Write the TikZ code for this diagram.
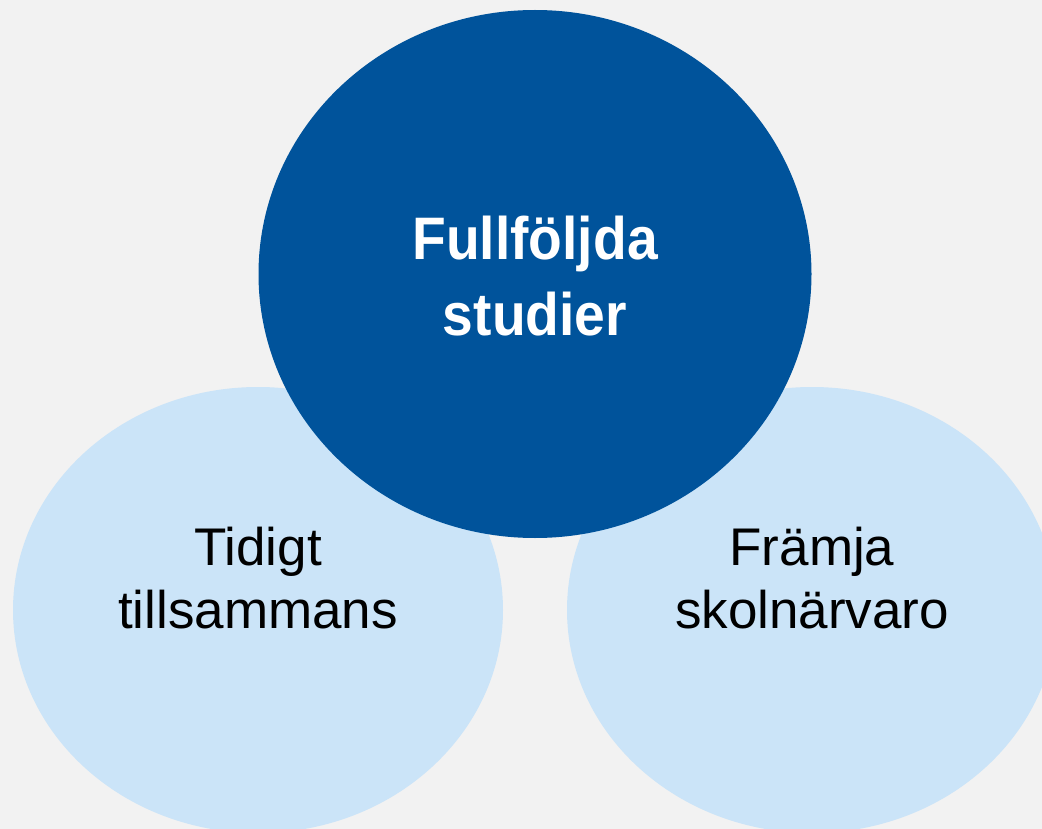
\documentclass[tikz,border=0pt]{standalone}
\usepackage{fontspec}
\setmainfont{Liberation Sans}
\newfontfamily\headfont[FakeStretch=0.92]{Liberation Sans}
\usetikzlibrary{shapes.geometric}
\definecolor{bgGray}{HTML}{F2F2F2}
\definecolor{darkBlue}{HTML}{00539B}
\definecolor{lightBlue}{HTML}{CBE4F8}
\tikzset{
    goal circle/.style = {ellipse, fill=darkBlue, inner sep=0, minimum width=553, minimum height=528},
    part circle/.style = {ellipse, fill=lightBlue, inner sep=0, minimum width=490, minimum height=446},
}
\tikzset{
    goal text/.style = {text=white, align=center, font=\headfont\bfseries\fontsize{60}{76}\selectfont},
    part text/.style = {text=black, align=center, font=\fontsize{53}{63}\selectfont},
}

\begin{document}
\begin{tikzpicture}[x = 1pt, y = -1pt]
            \useasboundingbox (0, 0) rectangle (1042, 829);
            \fill[bgGray] (0, 0) rectangle (1042, 829);
            \clip (0, 0) rectangle (1042, 829);

            \node[part circle] (tidigt) at (258, 610) {};
            \node[part circle] (framja) at (812, 610) {};
            \node[goal circle] (fullfoljda) at (535, 274) {};

            \node[part text] (tidigt text) at (258, 578) {Tidigt\\tillsammans};
            \node[part text] (framja text) at (812, 578) {Främja\\skolnärvaro};
            \node[goal text] (fullfoljda text) at (535, 276) {Fullföljda\\studier};
        \end{tikzpicture}
\end{document}
